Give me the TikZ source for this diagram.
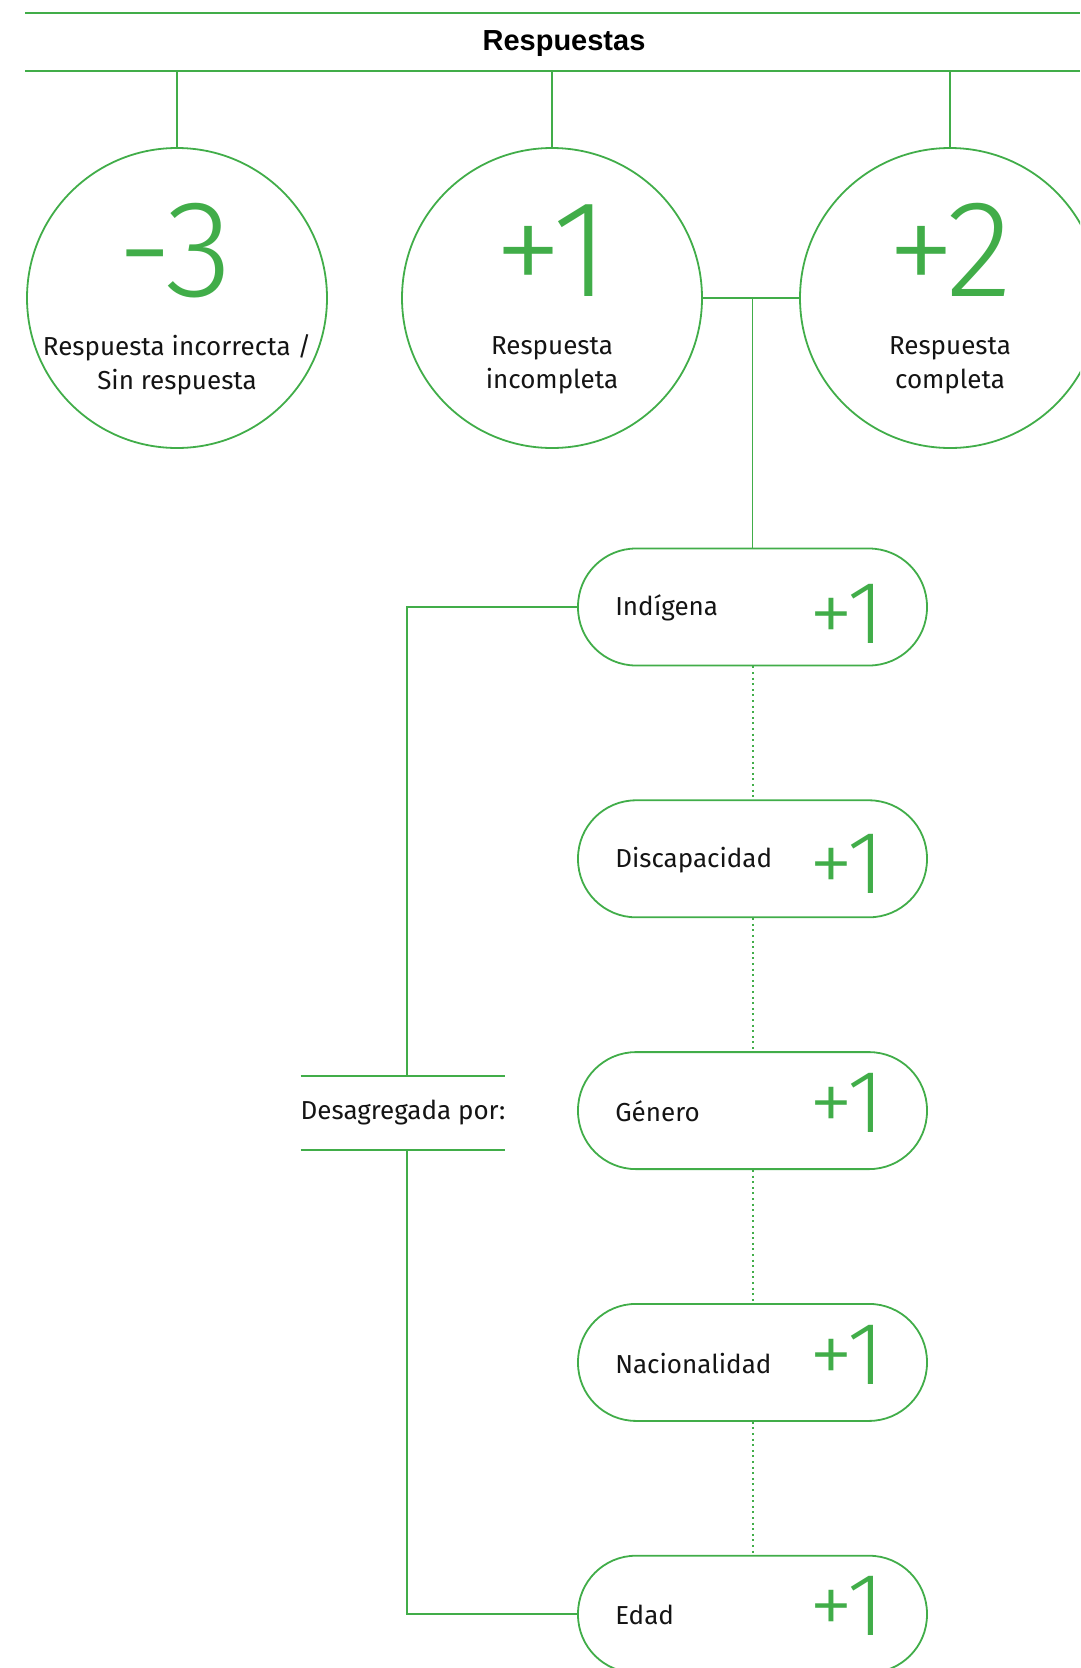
\documentclass[tikz,border=0pt]{standalone}
\usepackage{fontspec}
\setmainfont{Fira Sans}
\newfontfamily\headfont{Liberation Sans}
\newfontfamily\numfont{Fira Sans Light}
\newfontfamily\lblfont{Fira Sans}
\usepackage{tikz}
\usetikzlibrary{positioning,calc}
\definecolor{rgreen}{RGB}{65, 173, 73}
\definecolor{rblack}{RGB}{20, 20, 20}

\begin{document}
\begin{tikzpicture}[
    x=1pt, y=-1pt,
    node distance=133pt,
    ln/.style={draw=rgreen, line width=1.6pt},
    dots/.style={draw=rgreen, line width=2pt, dash pattern=on 2pt off 3.6pt},
    circ/.style={circle, draw=rgreen, line width=1.8pt, minimum size=300pt, inner sep=0pt},
    pill/.style={rectangle, draw=rgreen, line width=1.8pt, rounded corners=58pt, minimum width=349pt, minimum height=117pt, inner sep=0pt},
    bignum/.style={font=\numfont\fontsize{138}{138}\selectfont, text=rgreen, inner sep=0pt, anchor=base},
    pts/.style={font=\numfont\fontsize{89}{89}\selectfont, text=rgreen, inner sep=0pt, anchor=base},
    clbl/.style={font=\lblfont\fontsize{26}{34}\selectfont, text=rblack, align=center, inner sep=0pt},
    plbl/.style={font=\lblfont\fontsize{26}{28}\selectfont, text=rblack, inner sep=0pt, anchor=west},
    deslbl/.style={font=\lblfont\fontsize{26}{28}\selectfont, text=rblack, minimum width=200pt, minimum height=74pt, inner sep=0pt}
]
\clip (0,0) rectangle (1080,1668);

% Header
\node[font=\headfont\bfseries\fontsize{29}{32}\selectfont, text=black] (head) at (564,44) {Respuestas};
\coordinate (htl) at (25,13);
\coordinate (htr) at (1080,13);
\coordinate (hbl) at (25,71);
\coordinate (hbr) at (1080,71);
\draw[ln] (htl) -- (htr);
\draw[ln] (hbl) -- (hbr);

% Circles
\node[circ] (inc) at (177,298) {};
\node[circ] (mid) at (552,298) {};
\node[circ] (com) at (950,298) {};

\node[bignum] (n_inc) at ($(inc)+(-2,-2)$) {-3};
\node[bignum] (n_mid) at ($(mid)+(0,-2)$) {+1};
\node[bignum] (n_com) at ($(com)+(0,-2)$) {+2};

\node[clbl] (l_inc) at ($(inc)+(0,67)$) {Respuesta incorrecta /\\Sin respuesta};
\node[clbl] (l_mid) at ($(mid)+(0,67)$) {Respuesta\\incompleta};
\node[clbl] (l_com) at ($(com)+(0,67)$) {Respuesta\\completa};

% Pills
\node[pill] (ind) at (752.5,607) {};
\node[pill, below=of ind] (dis) {};
\node[pill, below=of dis] (gen) {};
\node[pill, below=of gen] (nac) {};
\node[pill, below=of nac] (eda) {};

\foreach \p/\t/\dy in {ind/Indígena/36, dis/Discapacidad/35, gen/Género/22, nac/Nacionalidad/22, eda/Edad/21}{
  \node[plbl] (l_\p) at ($(\p.west)+(38,1)$) {\t};
  \node[pts] (n_\p) at ($(\p)+(94,\dy)$) {+1};
}

% Desagregada
\node[deslbl] (des) at (403,1113) {Desagregada por:};
\coordinate (brk) at (407,0);

% Connectors
\draw[ln] (inc.north |- hbl) -- (inc.north);
\draw[ln] (mid.north |- hbl) -- (mid.north);
\draw[ln] (com.north |- hbl) -- (com.north);

\draw[ln] (mid.east) -- (com.west);
\draw[ln] (ind.north |- mid.east) -- (ind.north);

\draw[dots] (ind.south) -- (dis.north);
\draw[dots] (dis.south) -- (gen.north);
\draw[dots] (gen.south) -- (nac.north);
\draw[dots] (nac.south) -- (eda.north);

\draw[ln] (des.north west) -- (des.north east);
\draw[ln] (des.south west) -- (des.south east);
\draw[ln] (ind.west) -| (brk |- des.north);
\draw[ln] (eda.west) -| (brk |- des.south);

\end{tikzpicture}
\end{document}
